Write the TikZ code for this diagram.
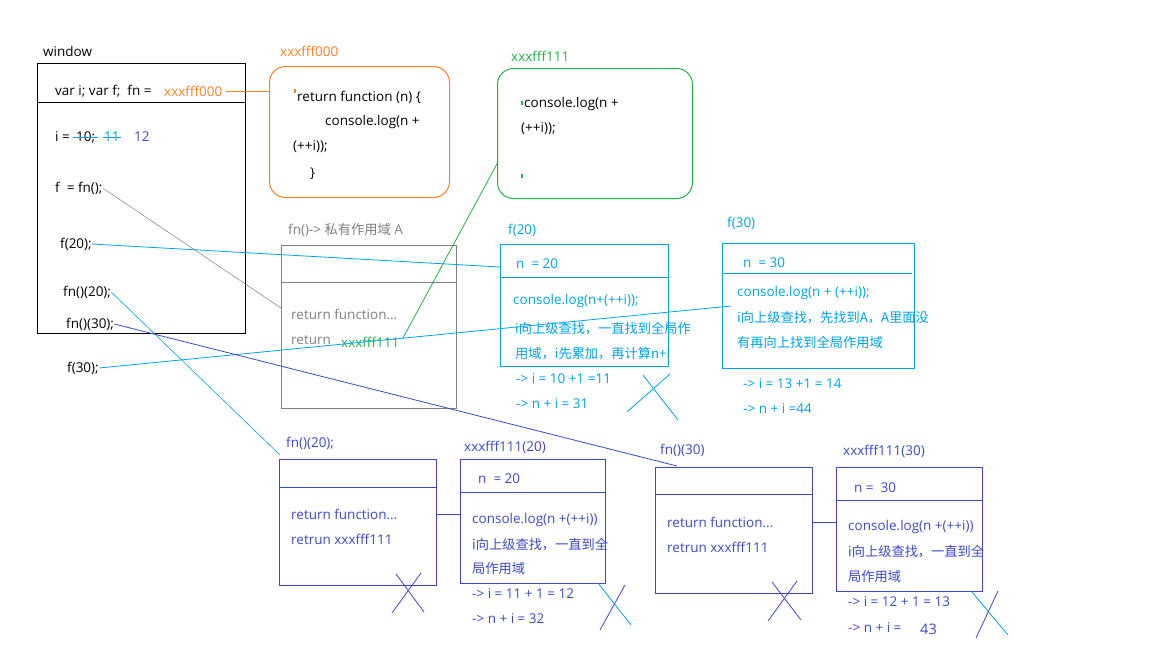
\documentclass[tikz,border=0pt]{standalone}
\usepackage{fontspec}
\setmainfont{Open Sans}
\newfontfamily\cjk[Scale=0.98]{Noto Sans CJK SC}
\definecolor{porange}{HTML}{FF7F27}
\definecolor{pgreen}{HTML}{22B14C}
\definecolor{pcyan}{HTML}{00A2E8}
\definecolor{pindigo}{HTML}{3F48CC}
\definecolor{pgray}{HTML}{7F7F7F}
\begin{document}
\begin{tikzpicture}[x=1pt,y=-1pt,
  txt/.style={anchor=west, inner sep=0pt, font=\fontsize{13.5}{16}\selectfont},
  frame/.style={draw, line width=1pt, anchor=north west, inner sep=0pt},
  roundframe/.style={frame, rounded corners=16pt},
  wire/.style={line width=0.8pt},
  xstroke/.style={line width=0.8pt}]
\useasboundingbox (0,0) rectangle (1152,648);
\fill[white] (0,0) rectangle (1152,648);

% ---------- global scope: window ----------
\node[frame, draw=black, minimum width=208pt, minimum height=270pt] (win) at (37,63) {};
\draw[line width=1pt] (37,102) -- (245,102);
\node[txt] (winlbl) at (43,51) {window};
\node[txt] (decl) at (55,91) {var i; var f;\ \ fn =};
\node[txt, text=porange] (fnaddr) at (164,91) {xxxfff000};
\node[txt] (iset) at (55,137) {i =};
\node[txt] (iten) at (76,137) {10;};
\node[txt, text=pcyan] (ieleven) at (104,137) {11};
\node[txt, text=pindigo] (itwelve) at (134,137) {12};
\draw[pcyan, xstroke] (73,137) -- (98,137);
\draw[pcyan, xstroke] (103,137) -- (121,137);
\node[txt] (fassign) at (55,188) {f\ \ = fn();};
\node[txt] (ftwenty) at (60,244) {f(20);};
\node[txt] (fntwenty) at (63,292) {fn()(20);};
\node[txt] (fnthirty) at (66,324) {fn()(30);};
\node[txt] (fthirty) at (67,368) {f(30);};

% ---------- heap: xxxfff000 ----------
\node[roundframe, draw=porange, minimum width=180pt, minimum height=131pt] (heap0) at (269,66) {};
\node[txt, text=porange] (heap0lbl) at (280,51) {xxxfff000};
\fill[porange] (294,89) rectangle (296,93);
\node[txt] (h0a) at (297,97) {return function (n) \{};
\node[txt] (h0b) at (325,122) {console.log(n +};
\node[txt] (h0c) at (293,147) {(++i));};
\node[txt] (h0d) at (310,174) {\}};

% ---------- heap: xxxfff111 ----------
\node[roundframe, draw=pgreen, minimum width=195pt, minimum height=130pt] (heap1) at (497,68) {};
\node[txt, text=pgreen] (heap1lbl) at (511,56) {xxxfff111};
\fill[pgreen] (521,101) rectangle (523,105);
\node[txt] (h1a) at (524,104) {console.log(n +};
\node[txt] (h1b) at (521,129) {(++i));};
\fill[pgreen] (521,174) rectangle (523,178);

% ---------- private scope A ----------
\node[frame, draw=pgray, minimum width=175pt, minimum height=163pt] (scopeA) at (281,245) {};
\draw[pgray, line width=1pt] (281,282) -- (456,282);
\node[txt, text=pgray] (scopeAlbl) at (288,230) {fn()-> {\cjk 私有作用域} A};
\node[txt, text=pgray] (aret1) at (291,314) {return function...};
\node[txt, text=pgray] (aret2) at (291,340) {return};
\node[txt, text=pgreen] (aaddr) at (341,342) {xxxfff111};

% ---------- call f(20) ----------
\node[frame, draw=pcyan, minimum width=168pt, minimum height=122pt] (callA) at (500,244) {};
\draw[pcyan, line width=1pt] (500,277) -- (668,277);
\node[txt, text=pcyan] (callAlbl) at (508,230) {f(20)};
\node[txt, text=pcyan] (cAn) at (516,264) {n\ \ = 20};
\node[txt, text=pcyan] (cA1) at (513,301) {console.log(n+(++i));};
\node[txt, text=pcyan] (cA2) at (515,329) {\cjk i向上级查找，一直找到全局作};
\node[txt, text=pcyan] (cA3) at (515,354) {\cjk 用域，i先累加，再计算n+i};
\node[txt, text=pcyan] (cA4) at (516,379) {-> i = 10 +1 =11};
\node[txt, text=pcyan] (cA5) at (516,404) {-> n + i = 31};
\draw[pcyan, xstroke] (643,375) -- (678,420);
\draw[pcyan, xstroke] (670,374) -- (627,412);

% ---------- call f(30) ----------
\node[frame, draw=pcyan, minimum width=192pt, minimum height=125pt] (callB) at (722,243) {};
\draw[pcyan, line width=1pt] (722,273) -- (912,273);
\node[txt, text=pcyan] (callBlbl) at (727,223) {f(30)};
\node[txt, text=pcyan] (cBn) at (743,263) {n\ \ = 30};
\node[txt, text=pcyan] (cB1) at (737,293) {console.log(n + (++i));};
\node[txt, text=pcyan] (cB2) at (737,318) {\cjk i向上级查找，先找到A，A里面没};
\node[txt, text=pcyan] (cB3) at (737,342) {\cjk 有再向上找到全局作用域};
\node[txt, text=pcyan] (cB4) at (743,384) {-> i = 13 +1 = 14};
\node[txt, text=pcyan] (cB5) at (743,409) {-> n + i =44};

% ---------- call fn()(20) ----------
\node[frame, draw=pindigo, minimum width=157pt, minimum height=126pt] (scopeC) at (279,459) {};
\draw[pindigo, line width=1pt] (279,487) -- (436,487);
\node[txt, text=pindigo] (scopeClbl) at (286,443) {fn()(20);};
\node[txt, text=pindigo] (cC1) at (291,514) {return function...};
\node[txt, text=pindigo] (cC2) at (291,539) {retrun xxxfff111};
\draw[pindigo, xstroke] (396,574) -- (424,612);
\draw[pindigo, xstroke] (421,573) -- (392,613);

\node[frame, draw=pindigo, minimum width=145pt, minimum height=124pt] (runC) at (460,459) {};
\draw[pindigo, line width=1pt] (460,492) -- (605,492);
\node[txt, text=pindigo] (runClbl) at (464,447) {xxxfff111(20)};
\node[txt, text=pindigo] (rC0) at (478,479) {n\ \ = 20};
\node[txt, text=pindigo] (rC1) at (472,520) {console.log(n +(++i))};
\node[txt, text=pindigo] (rC2) at (472,545) {\cjk i向上级查找，一直到全};
\node[txt, text=pindigo] (rC3) at (472,569) {\cjk 局作用域};
\node[txt, text=pindigo] (rC4) at (472,594) {-> i = 11 + 1 = 12};
\node[txt, text=pindigo] (rC5) at (472,619) {-> n + i = 32};
\draw[pcyan, xstroke] (598,583) -- (631,625);
\draw[pindigo, xstroke] (625,585) -- (600,630);

% ---------- call fn()(30) ----------
\node[frame, draw=pindigo, minimum width=157pt, minimum height=126pt] (scopeD) at (655,467) {};
\draw[pindigo, line width=1pt] (655,494) -- (812,494);
\node[txt, text=pindigo] (scopeDlbl) at (660,450) {fn()(30)};
\node[txt, text=pindigo] (cD1) at (667,522) {return function...};
\node[txt, text=pindigo] (cD2) at (667,547) {retrun xxxfff111};
\draw[pindigo, xstroke] (772,582) -- (801,620);
\draw[pindigo, xstroke] (797,581) -- (768,621);

\node[frame, draw=pindigo, minimum width=146pt, minimum height=124pt] (runD) at (836,467) {};
\draw[pindigo, line width=1pt] (836,500) -- (982,500);
\node[txt, text=pindigo] (runDlbl) at (843,451) {xxxfff111(30)};
\node[txt, text=pindigo] (rD0) at (854,488) {n =\ \ 30};
\node[txt, text=pindigo] (rD1) at (848,527) {console.log(n +(++i))};
\node[txt, text=pindigo] (rD2) at (848,552) {\cjk i向上级查找，一直到全};
\node[txt, text=pindigo] (rD3) at (848,577) {\cjk 局作用域};
\node[txt, text=pindigo] (rD4) at (848,602) {-> i = 12 + 1 = 13};
\node[txt, text=pindigo] (rD5) at (848,628) {-> n + i =};
\node[txt, text=pindigo, font=\fontsize{14.5}{17}\selectfont] (rD6) at (920,629) {43};
\draw[pcyan, xstroke] (972,592) -- (1008,635);
\draw[pindigo, xstroke] (998,591) -- (976,638);

% ---------- connectors ----------
\coordinate (pA) at (281,308);
\coordinate (pAin) at (403,338);
\coordinate (pH1) at (498,162);
\coordinate (pF20) at (500,267);
\coordinate (pF30) at (731,306);
\coordinate (pC) at (280,455);
\coordinate (pD) at (677,466);
\draw[porange, wire] (fnaddr.east) ++(3,0) -- (heap0.west |- fnaddr.east);
\draw[pgray, line width=0.5pt] (fassign.east) -- (pA);
\draw[pcyan, wire] (ftwenty.east) -- (pF20);
\draw[pgreen, wire] (pAin) -- (pH1);
\draw[pcyan, wire] (fthirty.east) -- (pF30);
\draw[pcyan, line width=0.6pt] (fntwenty.east) -- (pC);
\draw[pindigo, wire] (fnthirty.east) -- (pD);
\draw[pindigo, wire] (scopeC.east |- cC1.west) -- (runC.west |- cC1.west);
\draw[pindigo, wire] (scopeD.east |- cD1.west) -- (runD.west |- cD1.west);
\end{tikzpicture}
\end{document}
